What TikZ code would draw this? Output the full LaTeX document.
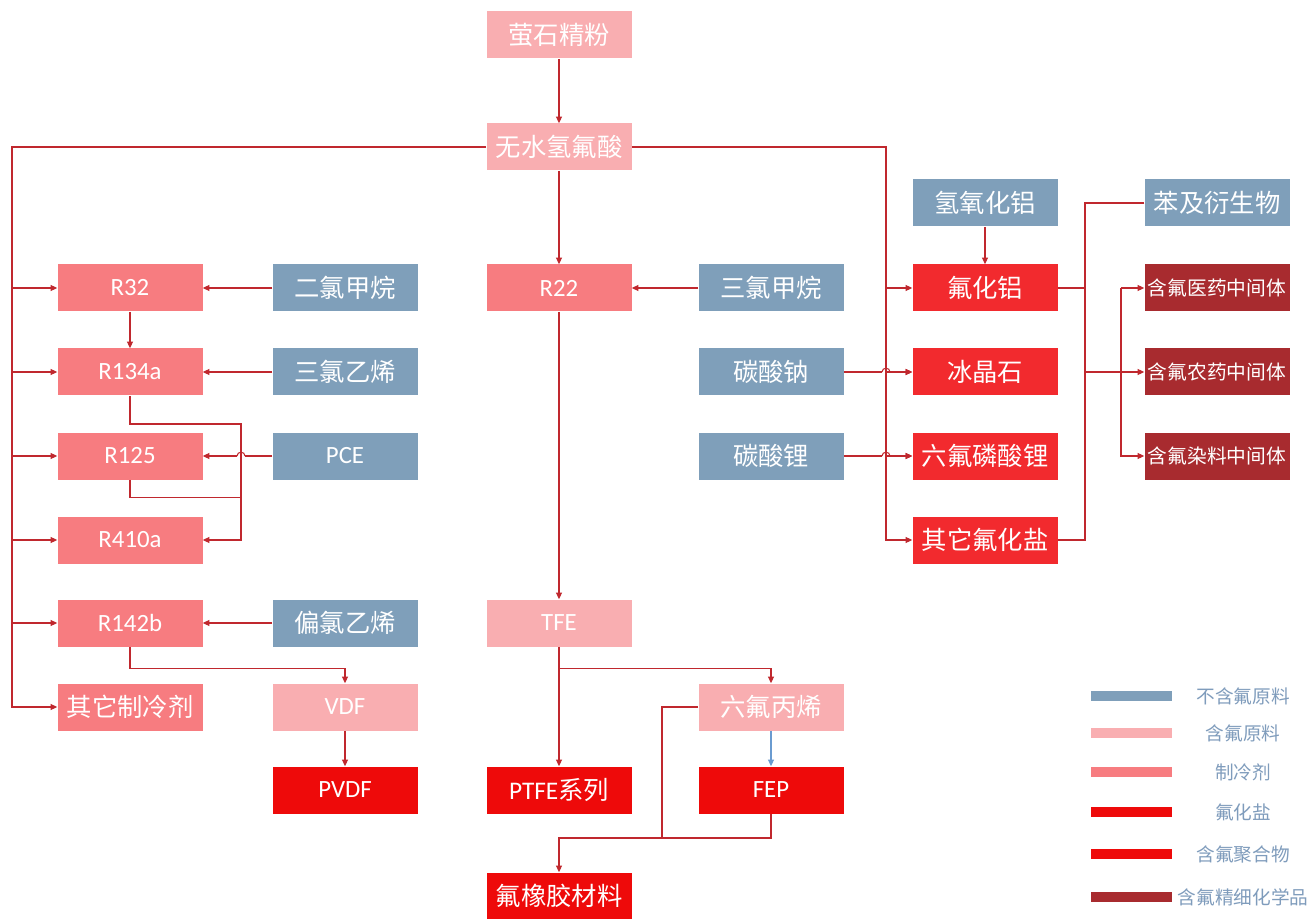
\documentclass[tikz,border=0pt]{standalone}
\usepackage{fontspec}
\setmainfont{Noto Sans CJK SC}
\newfontfamily\lat{Carlito}
\usetikzlibrary{arrows.meta}
\definecolor{cblue}{HTML}{7F9FBA}
\definecolor{cpink}{HTML}{F9AEB1}
\definecolor{csalmon}{HTML}{F77C80}
\definecolor{csalt}{HTML}{F22A2E}
\definecolor{cpoly}{HTML}{EE0A0A}
\definecolor{cfine}{HTML}{A82B2F}
\definecolor{cline}{HTML}{C0282E}
\definecolor{cbline}{HTML}{6A9BD0}
\definecolor{clegtext}{HTML}{7F9CBC}
\tikzset{
  box/.style={rectangle, minimum width=108.75pt, minimum height=35.25pt, inner sep=0pt, text=white, font=\fontsize{19}{19}\selectfont},
  latf/.style={font=\lat\fontsize{18.6}{18.6}\selectfont},
  smallf/.style={font=\fontsize{14.8}{14.8}\selectfont},
  rawbox/.style={box, fill=cblue},
  fmatbox/.style={box, fill=cpink},
  refbox/.style={box, fill=csalmon},
  saltbox/.style={box, fill=csalt},
  polybox/.style={box, fill=cpoly},
  finebox/.style={box, fill=cfine, smallf},
  ln/.style={draw=cline, line width=0.8pt},
  arr/.style={ln, -{Triangle[length=5pt,width=4.5pt]}},
  barr/.style={draw=cbline, line width=0.8pt, -{Triangle[length=5pt,width=4.5pt]}},
  legbar/.style={rectangle, minimum width=60.75pt, minimum height=7.5pt, inner sep=0pt},
  legtext/.style={text=clegtext, inner sep=0pt, font=\fontsize{14}{14}\selectfont},
}
\begin{document}
\begin{tikzpicture}[x=0.75pt,y=-0.75pt]
\useasboundingbox (0,0) rectangle (1312,919);
\fill[white] (0,0) rectangle (1312,919);

% middle column
\node[fmatbox] (fluor) at (559,35) {萤石精粉};
\node[fmatbox] (hf) at (559,147) {无水氢氟酸};
\node[refbox,latf] (r22) at (559,288) {R22};
\node[fmatbox,latf] (tfe) at (559,623) {TFE};
\node[polybox] (ptfe) at (559,790) {{\lat PTFE}系列};
\node[polybox] (rubber) at (559,896) {氟橡胶材料};
\node[fmatbox] (hfp) at (771,707) {六氟丙烯};
\node[polybox,latf] (fep) at (771,790) {FEP};

% left
\node[refbox,latf] (r32) at (130,288) {R32};
\node[refbox,latf] (r134a) at (130,372) {R134a};
\node[refbox,latf] (r125) at (130,456) {R125};
\node[refbox,latf] (r410a) at (130,540) {R410a};
\node[refbox,latf] (r142b) at (130,623) {R142b};
\node[refbox] (other) at (130,707) {其它制冷剂};
\node[rawbox] (dcm) at (345,288) {二氯甲烷};
\node[rawbox] (tce) at (345,372) {三氯乙烯};
\node[rawbox,latf] (pce) at (345,456) {PCE};
\node[rawbox] (vdcl) at (345,623) {偏氯乙烯};
\node[fmatbox,latf] (vdf) at (345,707) {VDF};
\node[polybox,latf] (pvdf) at (345,790) {PVDF};

% right
\node[rawbox] (tcm) at (771,288) {三氯甲烷};
\node[rawbox] (na) at (771,372) {碳酸钠};
\node[rawbox] (li) at (771,456) {碳酸锂};
\node[rawbox] (aloh) at (985,203) {氢氧化铝};
\node[saltbox] (alf) at (985,288) {氟化铝};
\node[saltbox] (cryo) at (985,372) {冰晶石};
\node[saltbox] (lipf) at (985,456) {六氟磷酸锂};
\node[saltbox] (osalt) at (985,540) {其它氟化盐};
\node[rawbox] (benz) at (1217,203) {苯及衍生物};
\node[finebox] (med) at (1217,288) {含氟医药中间体};
\node[finebox] (agro) at (1217,372) {含氟农药中间体};
\node[finebox] (dye) at (1217,456) {含氟染料中间体};

% coordinates
\coordinate (ltr) at (12,147);
\coordinate (rtr) at (886,147);
\coordinate (vx) at (241,424);
\coordinate (v1) at (1085,203);
\coordinate (v2) at (1121,372);
\coordinate (jn) at (662,838);

% middle connectors
\draw[arr] (fluor.south) -- (hf.north);
\draw[arr] (hf.south) -- (r22.north);
\draw[arr] (tcm.west) -- (r22.east);
\draw[arr] (r22.south) -- (tfe.north);
\draw[arr] (tfe.south) -- (ptfe.north);
\draw[arr] (tfe.south) ++(0,22) -| (hfp.north);
\draw[barr] (hfp.south) -- (fep.north);
\draw[ln] (hfp.west) -| (jn);
\draw[arr] (fep.south) |- (jn) -| (rubber.north);

% left trunk
\draw[arr] (hf.west) -- (ltr) -- (ltr |- other.west) -- (other.west);
\foreach \n in {r32,r134a,r125,r410a,r142b} \draw[arr] (ltr |- \n.west) -- (\n.west);
\draw[arr] (r32.south) -- (r134a.north);
\draw[arr] (dcm.west) -- (r32.east);
\draw[arr] (tce.west) -- (r134a.east);
% PCE -> R125 with a hop over the vertical line
\draw[ln] (pce.west) -- ([xshift=3pt]vx |- pce.west);
\draw[ln] ([xshift=3pt]vx |- pce.west) .. controls +(0,-5) and +(0,-5) .. ([xshift=-3pt]vx |- pce.west);
\draw[arr] ([xshift=-3pt]vx |- pce.west) -- (r125.east);
\draw[arr] (vdcl.west) -- (r142b.east);
\draw[arr] (r134a.south) -- (r134a.south |- vx) -- (vx) -- (vx |- r410a.east) -- (r410a.east);
\draw[ln] (r125.south) -- ++(0,18) coordinate (b125) -- (vx |- b125);
\draw[arr] (r142b.south) -- ++(0,22) -| (vdf.north);
\draw[arr] (vdf.south) -- (pvdf.north);

% right trunk
\draw[arr] (hf.east) -- (rtr) -- (rtr |- osalt.west) -- (osalt.west);
\foreach \n in {alf,cryo,lipf} \draw[arr] (rtr |- \n.west) -- (\n.west);
\draw[arr] (aloh.south) -- (alf.north);
% carbonates -> salts with hops over the trunk
\draw[ln] (na.east) -- ([xshift=-3pt]rtr |- na.east);
\draw[ln] ([xshift=-3pt]rtr |- na.east) .. controls +(0,-5) and +(0,-5) .. ([xshift=3pt]rtr |- na.east);
\draw[arr] ([xshift=3pt]rtr |- na.east) -- (cryo.west);
\draw[ln] (li.east) -- ([xshift=-3pt]rtr |- li.east);
\draw[ln] ([xshift=-3pt]rtr |- li.east) .. controls +(0,-5) and +(0,-5) .. ([xshift=3pt]rtr |- li.east);
\draw[arr] ([xshift=3pt]rtr |- li.east) -- (lipf.west);

% right cluster
\draw[ln] (benz.west) -- (v1) -- (v1 |- osalt.east) -- (osalt.east);
\draw[ln] (alf.east) -- (v1 |- alf.east);
\draw[arr] (v1 |- agro.west) -- (agro.west);
\draw[arr] (v2 |- med.west) -- (v2 |- dye.west) -- (dye.west);
\draw[arr] (v2 |- med.west) -- (med.west);

% legend
\node[legbar, fill=cblue] (lb1) at (1131,696) {};
\node[legbar, fill=cpink] (lb2) at (1131,733) {};
\node[legbar, fill=csalmon] (lb3) at (1131,772) {};
\node[legbar, fill=cpoly] (lb4) at (1131,812) {};
\node[legbar, fill=cpoly] (lb5) at (1131,854) {};
\node[legbar, fill=cfine] (lb6) at (1131,897) {};
\node[legtext] (lg1) at (1243,696) {不含氟原料};
\node[legtext] (lg2) at (1243,733) {含氟原料};
\node[legtext] (lg3) at (1243,772) {制冷剂};
\node[legtext] (lg4) at (1243,812) {氟化盐};
\node[legtext] (lg5) at (1243,854) {含氟聚合物};
\node[legtext] (lg6) at (1243,897) {含氟精细化学品};
\end{tikzpicture}
\end{document}
